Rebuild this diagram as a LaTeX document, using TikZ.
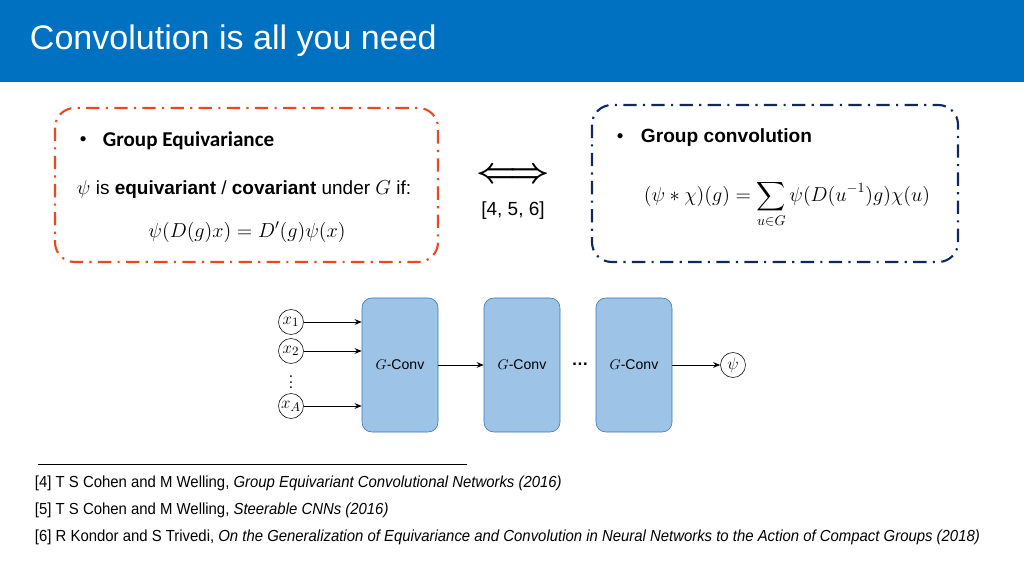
\documentclass[tikz,border=0pt]{standalone}
\usepackage{amsmath,amssymb}
\usepackage{fontspec}
\setmainfont{Liberation Sans}
\setsansfont{Liberation Sans}
\newfontfamily\calibri{Carlito}
\newfontfamily\narrowsans[FakeStretch=0.93]{Liberation Sans}
\usepackage{tikz}
\usepackage{xcolor}
\usetikzlibrary{arrows.meta,calc,positioning}
\definecolor{slideblue}{RGB}{0,112,192}
\definecolor{boxorange}{RGB}{233,72,32}
\definecolor{boxnavy}{RGB}{16,40,92}
\definecolor{convfill}{RGB}{157,195,230}
\definecolor{convdraw}{RGB}{52,120,188}
\begin{document}
\begin{tikzpicture}[x=0.025cm,y=-0.025cm,>=Stealth,every node/.style={font=\fontsize{13.5}{15}\selectfont}]
  \tikzset{
    dashdot/.style={line width=1.5pt,rounded corners=14pt,dash pattern=on 9.5pt off 4.5pt on 1.5pt off 4.5pt},
    convbox/.style={draw=convdraw,fill=convfill,rounded corners=7pt,minimum width=76*0.025cm,minimum height=134*0.025cm,font=\fontsize{10}{12}\selectfont},
    var/.style={draw,circle,inner sep=0pt,minimum size=25*0.025cm,font=\fontsize{12.5}{14}\selectfont},
    conn/.style={->,line width=0.5pt,>={Stealth[length=5pt,width=4pt]}},
    reftext/.style={anchor=west,font=\narrowsans\fontsize{11.4}{13}\selectfont}
  }
  \useasboundingbox (0,0) rectangle (1024,576);
  \fill[white] (0,0) rectangle (1024,576);
  % title bar
  \fill[slideblue] (0,0) rectangle (1024,82);
  \node[anchor=west,text=white,font=\fontsize{24.2}{27}\selectfont] (title) at (25,41) {Convolution is all you need};
  % the two boxes
  \draw[dashdot,draw=boxorange] (55,108) rectangle (438,262);
  \draw[dashdot,draw=boxnavy] (592,105) rectangle (958,262);
  \node[anchor=west] (b1) at (75,141) {\textbullet};
  \node[anchor=west,font=\calibri\bfseries\fontsize{15}{16}\selectfont] (equi) at (98,141) {Group Equivariance};
  \node[anchor=west] (equitxt) at (72,189) {$\psi$ is \textbf{equivariant} / \textbf{covariant} under $G$ if:};
  \node[font=\fontsize{14.2}{16}\selectfont] (equiform) at (247,232) {$\psi(D(g)x)=D'(g)\psi(x)$};
  \node[anchor=west] (b2) at (612,138) {\textbullet};
  \node[anchor=west,font=\bfseries\fontsize{13.6}{15}\selectfont] (gconv) at (636,138) {Group convolution};
  \node[font=\fontsize{14.4}{16}\selectfont] (convform) at (787,204) {$\displaystyle(\psi*\chi)(g)=\sum_{u\in G}\psi(D(u^{-1})g)\chi(u)$};
  % equivalence sign
  \node[font=\fontsize{23}{25}\selectfont] (iff) at (513,176) {$\boldsymbol{\Longleftrightarrow}$};
  \node (cites) at (513,211) {[4, 5, 6]};
  % network
  \node[convbox] (c1) at (400,365) {$G$-Conv};
  \node[convbox] (c2) at (522,365) {$G$-Conv};
  \node[convbox] (c3) at (634,365) {$G$-Conv};
  \node[inner sep=0pt,font=\bfseries\fontsize{12}{14}\selectfont] (cdots) at (580,364) {…};
  \node[var] (x1) at (291,322) {$x_1$};
  \node[var] (x2) at (291,351) {$x_2$};
  \node[inner sep=0pt,font=\fontsize{11}{11}\selectfont] (vdots) at (291,378) {$\vdots$};
  \node[var] (xA) at (291,406) {$x_A$};
  \node[var] (psi) at (733,365) {$\psi$};
  \draw[conn] (x1.east) -- (x1.east -| c1.west);
  \draw[conn] (x2.east) -- (x2.east -| c1.west);
  \draw[conn] (xA.east) -- (xA.east -| c1.west);
  \draw[conn] (c1.east) -- (c2.west);
  \draw[conn] (c3.east) -- (psi.west);
  % references
  \coordinate (fnl) at (38,464);
  \coordinate (fnr) at (467,464);
  \draw[line width=0.6pt] (fnl) -- (fnr);
  \node[reftext] (r4) at (30,483) {[4] T S Cohen and M Welling, \textit{Group Equivariant Convolutional Networks (2016)}};
  \node[reftext] (r5) at (30,510) {[5] T S Cohen and M Welling, \textit{Steerable CNNs (2016)}};
  \node[reftext] (r6) at (30,537) {[6] R Kondor and S Trivedi, \textit{On the Generalization of Equivariance and Convolution in Neural Networks to the Action of Compact Groups (2018)}};
\end{tikzpicture}
\end{document}
